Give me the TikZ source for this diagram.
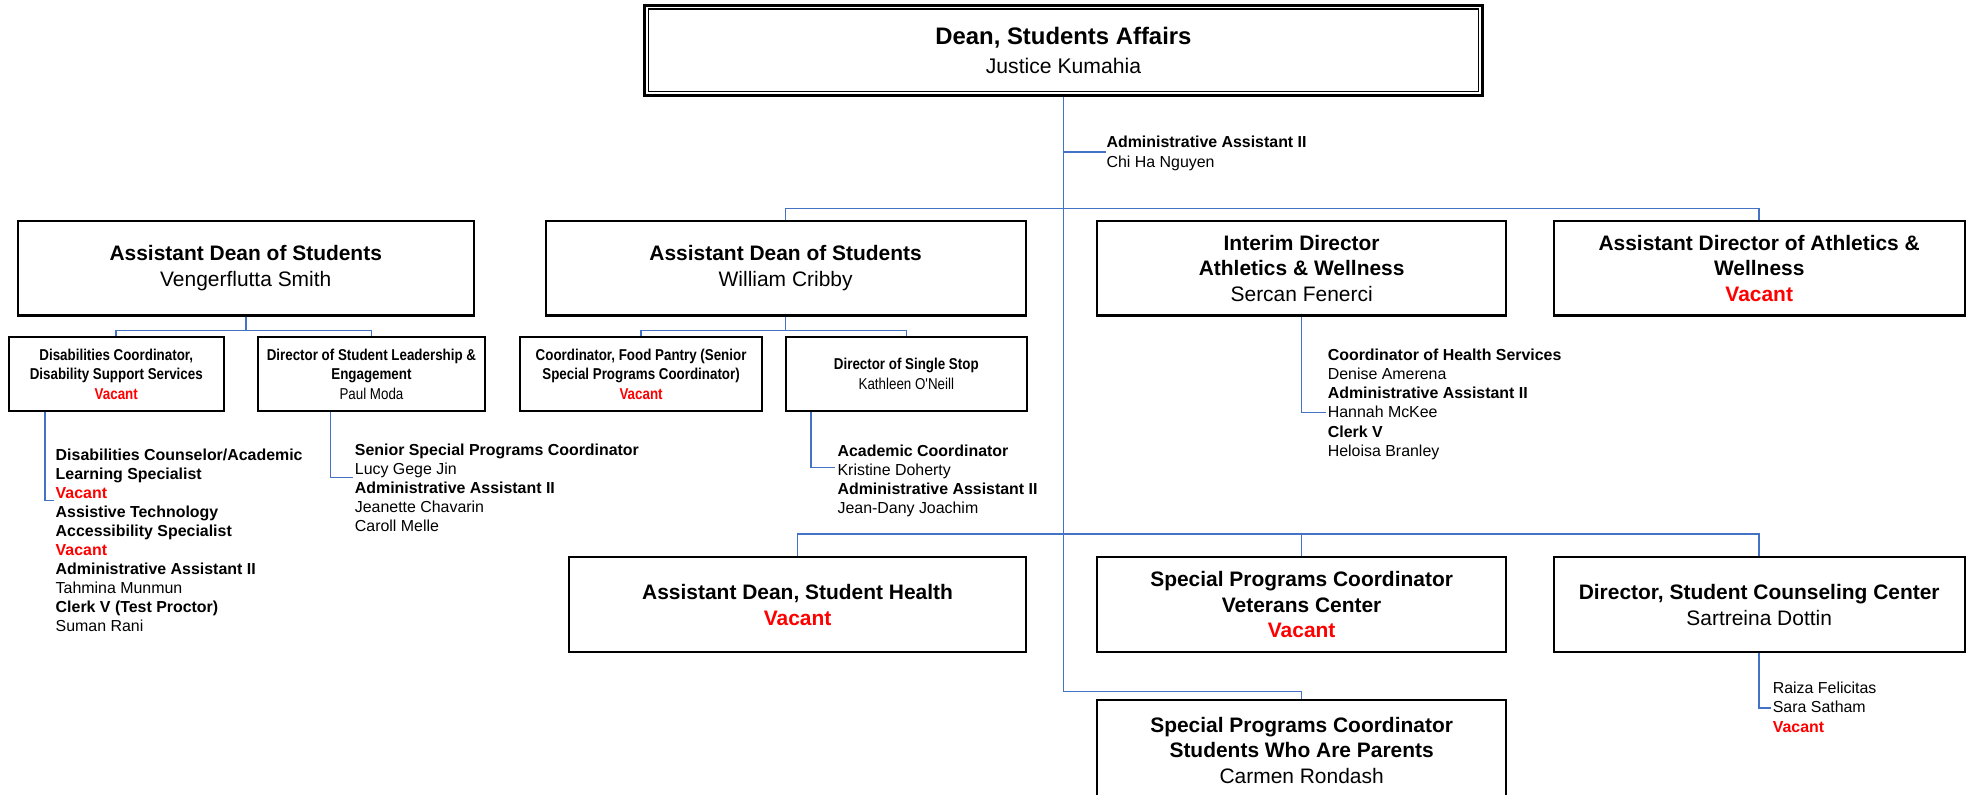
\documentclass[tikz,border=0pt]{standalone}
\usepackage{fontspec}
\setmainfont{Liberation Sans}
\newfontfamily\narrowfont[FakeStretch=0.85]{Liberation Sans}
\usetikzlibrary{calc,positioning}

\definecolor{orgblue}{RGB}{68,114,196}
\newcommand{\vac}{\textcolor{red}{\bfseries Vacant}}

\tikzset{
  post/.style={draw,line width=1pt,rectangle,align=center,inner sep=1pt},
  big/.style={font=\fontsize{10}{12.3}\selectfont},
  small/.style={font=\narrowfont\fontsize{7.5}{9.3}\selectfont},
  staff/.style={anchor=north west,align=left,inner sep=0pt,font=\fontsize{7.6}{9.1}\selectfont},
  link/.style={draw=orgblue,line width=0.75pt},
}

\begin{document}
\begin{tikzpicture}[x=0.6pt,y=-0.6pt]
  \useasboundingbox (0,0) rectangle (1568,632);

  % dean
  \node [post,line width=1.4pt,minimum width=400pt,minimum height=43pt,font=\fontsize{11.4}{13.8}\selectfont] at (846,40) (dean) {\textbf{Dean, Students Affairs}\\{\fontsize{10.1}{13.8}\selectfont Justice Kumahia}};
  \draw [line width=0.5pt] ($(dean.north west)+(2.5pt,-2.5pt)$) rectangle ($(dean.south east)+(-2.5pt,2.5pt)$);

  % second row
  \node [post,big,minimum width=217.8pt,minimum height=45pt] at (195.5,213.5) (smith) {\textbf{Assistant Dean of Students}\\Vengerflutta Smith};
  \node [post,big,minimum width=229.2pt,minimum height=45pt] at (625,213.5) (cribby) {\textbf{Assistant Dean of Students}\\William Cribby};
  \node [post,big,minimum width=195pt,minimum height=45pt] at (1035.5,213.5) (athint) {\textbf{Interim Director}\\\textbf{Athletics \& Wellness}\\Sercan Fenerci};
  \node [post,big,minimum width=196.2pt,minimum height=45pt] at (1399.5,213.5) (athasst) {\textbf{Assistant Director of Athletics \&}\\\textbf{Wellness}\\\vac};

  % under the assistant deans
  \node [post,small,minimum width=102.6pt,minimum height=35.4pt] at (92.5,297.5) (dcoord) {\textbf{Disabilities Coordinator,}\\\textbf{Disability Support Services}\\\vac};
  \node [post,small,minimum width=108.6pt,minimum height=35.4pt] at (295.5,297.5) (sld) {\textbf{Director of Student Leadership \&}\\\textbf{Engagement}\\Paul Moda};
  \node [post,small,minimum width=115.2pt,minimum height=35.4pt] at (510,297.5) (pantry) {\textbf{Coordinator, Food Pantry (Senior}\\\textbf{Special Programs Coordinator)}\\\vac};
  \node [post,small,minimum width=115.2pt,minimum height=35.4pt] at (721,297.5) (sstop) {\textbf{Director of Single Stop}\\Kathleen O'Neill};

  % third row
  \node [post,big,minimum width=217.8pt,minimum height=45.6pt] at (634.5,481) (shealth) {\textbf{Assistant Dean, Student Health}\\\vac};
  \node [post,big,minimum width=195pt,minimum height=45.6pt] at (1035.5,481) (veterans) {\textbf{Special Programs Coordinator}\\\textbf{Veterans Center}\\\vac};
  \node [post,big,minimum width=196.2pt,minimum height=45.6pt] at (1399.5,481) (counsel) {\textbf{Director, Student Counseling Center}\\Sartreina Dottin};
  \node [post,big,minimum width=195pt,minimum height=48pt] at (1035.5,597) (parents) {\textbf{Special Programs Coordinator}\\\textbf{Students Who Are Parents}\\Carmen Rondash};

  % staff lists
  \node [staff,font=\fontsize{7.6}{9.6}\selectfont] at (880,107.5) (adminlist) {\textbf{Administrative Assistant II}\\Chi Ha Nguyen};
  \node [staff] at (44,356.5) (dslist) {\textbf{Disabilities Counselor/Academic}\\\textbf{Learning Specialist}\\\vac\\\textbf{Assistive Technology}\\\textbf{Accessibility Specialist}\\\vac\\\textbf{Administrative Assistant II}\\Tahmina Munmun\\\textbf{Clerk V (Test Proctor)}\\Suman Rani};
  \node [staff] at (282,352.5) (sllist) {\textbf{Senior Special Programs Coordinator}\\Lucy Gege Jin\\\textbf{Administrative Assistant II}\\Jeanette Chavarin\\Caroll Melle};
  \node [staff] at (666,353.5) (sslist) {\textbf{Academic Coordinator}\\Kristine Doherty\\\textbf{Administrative Assistant II}\\Jean-Dany Joachim};
  \node [staff] at (1056,277.5) (hslist) {\textbf{Coordinator of Health Services}\\Denise Amerena\\\textbf{Administrative Assistant II}\\Hannah McKee\\\textbf{Clerk V}\\Heloisa Branley};
  \node [staff] at (1410,542.5) (cclist) {Raiza Felicitas\\Sara Satham\\\vac};

  % connectors
  \coordinate (adminknee) at (846,121);
  \coordinate (topbar) at (846,166);
  \coordinate (lowbar) at (846,425);
  \coordinate (trunkend) at (846,550);
  \draw [link] (dean.south) -- (trunkend) -| (parents.north);
  \draw [link] (adminknee) -- (adminlist.west |- adminknee);
  \draw [link] (cribby.north) |- (topbar) -| (athasst.north);
  \draw [link] (shealth.north) |- (lowbar) -| (counsel.north);
  \draw [link] (lowbar -| veterans.north) -- (veterans.north);

  \coordinate (smithbar) at ($(smith.south)+(0,11)$);
  \coordinate (cribbybar) at ($(cribby.south)+(0,11)$);
  \draw [link] (smith.south) -- (smithbar);
  \draw [link] (dcoord.north) |- (smithbar) -| (sld.north);
  \draw [link] (cribby.south) -- (cribbybar);
  \draw [link] (pantry.north) |- (cribbybar) -| (sstop.north);

  \coordinate (dstap) at (43,398);
  \coordinate (sltap) at (281,380);
  \coordinate (sstap) at (664,372);
  \coordinate (hstap) at (1055,328);
  \coordinate (cctap) at (1409,563);
  \foreach \boss/\tap/\dx in {dcoord/dstap/7,sld/sltap/18,sstop/sstap/19}
    \draw [link] (\tap) -- ++(-\dx,0) coordinate (knee) -- (knee |- \boss.south);
  \foreach \boss/\tap in {athint/hstap,counsel/cctap}
    \draw [link] (\boss.south) |- (\tap);

\end{tikzpicture}
\end{document}
